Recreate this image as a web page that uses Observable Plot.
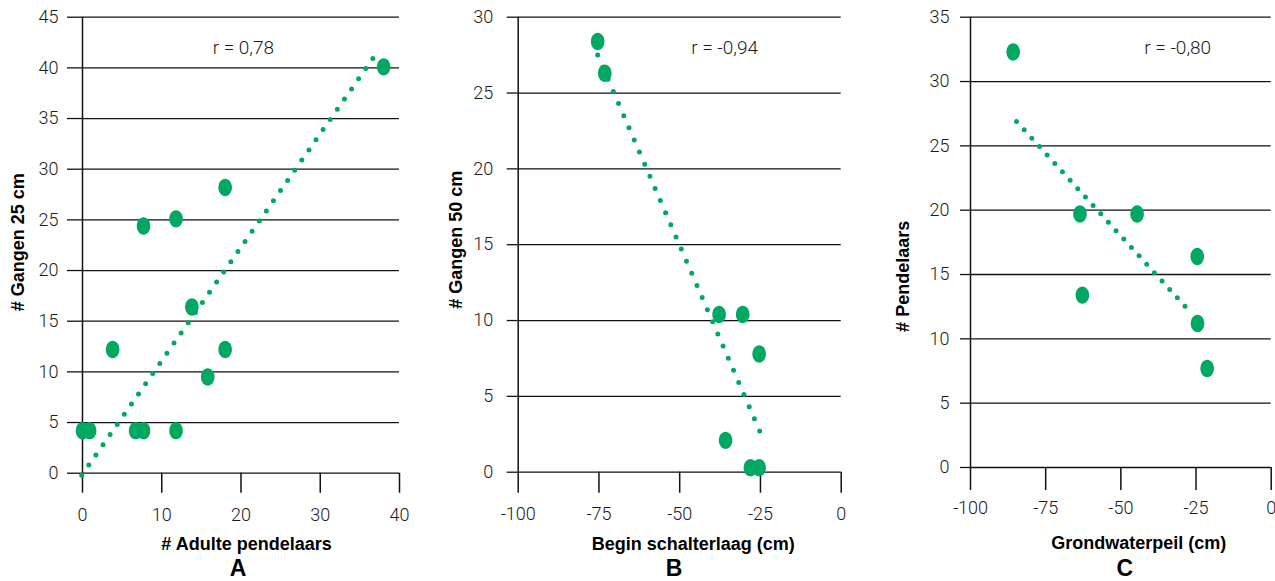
<!DOCTYPE html>
<html><head><meta charset="utf-8">
<script src="https://cdn.jsdelivr.net/npm/d3@7"></script>
<script src="https://cdn.jsdelivr.net/npm/@observablehq/plot@0.6"></script>
<style>
html,body{margin:0;padding:0;background:#fff;}
#chart{position:relative;width:1275px;height:581px;overflow:hidden;}
#chart svg{position:absolute;top:0;overflow:visible;}
</style></head><body><div id="chart"></div>
<script>
const green = "#00a862";

// Panel A
const adultePendelaars = [0, 0.9, 3.8, 6.7, 7.7, 11.8, 13.8, 15.8, 18, 7.7, 11.8, 18, 38];
const gangen25 = [4.2, 4.2, 12.2, 4.2, 4.2, 4.2, 16.4, 9.5, 12.2, 24.4, 25.1, 28.2, 40.1];
const trendAx = [-0.1, 37.5];
const trendAy = [-0.2, 41.9];
const xTicksA = [0, 10, 20, 30, 40];
const yTicksA = [0, 5, 10, 15, 20, 25, 30, 35, 40, 45];

// Panel B
const beginSchalterlaag = [-75.4, -73.2, -37.8, -30.5, -25.4, -35.8, -28.1, -25.4];
const gangen50 = [28.4, 26.3, 10.4, 10.4, 7.8, 2.1, 0.3, 0.3];
const trendBx = [-75.4, -25.2];
const trendBy = [27.5, 2.7];
const xTicksB = [-100, -75, -50, -25, 0];
const yTicksB = [0, 5, 10, 15, 20, 25, 30];

// Panel C
const grondwaterpeil = [-85.8, -63.6, -44.6, -24.6, -62.8, -24.5, -21.3];
const pendelaars = [32.3, 19.7, 19.7, 16.4, 13.4, 11.2, 7.7];
const trendCx = [-84.7, -26.2];
const trendCy = [26.9, 11.9];
const xTicksC = [-100, -75, -50, -25, 0];
const yTicksC = [0, 5, 10, 15, 20, 25, 30, 35];

const rLabels = ["r = 0,78", "r = -0,94", "r = -0,80"];
const xTitles = ["# Adulte pendelaars", "Begin schalterlaag (cm)", "Grondwaterpeil (cm)"];
const yTitles = ["# Gangen 25 cm", "# Gangen 50 cm", "# Pendelaars"];
const letters = ["A", "B", "C"];

const ellipse = {
  draw(ctx, size) {
    const ry = Math.sqrt(size / Math.PI), rx = ry * 0.78, k = 0.5523;
    ctx.moveTo(rx, 0);
    ctx.bezierCurveTo(rx, k * ry, k * rx, ry, 0, ry);
    ctx.bezierCurveTo(-k * rx, ry, -rx, k * ry, -rx, 0);
    ctx.bezierCurveTo(-rx, -k * ry, -k * rx, -ry, 0, -ry);
    ctx.bezierCurveTo(k * rx, -ry, rx, -k * ry, rx, 0);
    ctx.closePath();
  }
};

const titleFont = "'Liberation Sans', Arial, Helvetica, sans-serif";
const fmt = d => String(d);

function panel(c) {
  const pts = c.xs.map((x, i) => ({x, y: c.ys[i]}));
  const trend = c.tx.map((x, i) => ({x, y: c.ty[i]}));
  const svg = Plot.plot({
    width: c.width, height: 581,
    marginLeft: c.ml, marginRight: c.mr, marginTop: 16.7, marginBottom: c.mb,
    x: {domain: c.xDomain},
    y: {domain: c.yDomain},
    style: {fontFamily: "Roboto, 'Liberation Sans', sans-serif", fontSize: "18px", fontWeight: 300, color: "#1a1a1a", background: "transparent", overflow: "visible"},
    marks: [
      Plot.gridY(c.yTicks, {stroke: "#111", strokeOpacity: 1, strokeWidth: 1.3}),
      Plot.ruleX([c.xDomain[0]], {stroke: "#111", strokeWidth: 1.5}),
      Plot.axisY(c.yTicks, {tickSize: c.yTickSize, tickPadding: c.yTickPad, tickFormat: fmt, label: null, strokeWidth: 1.3, stroke: "#111"}),
      Plot.axisX(c.xTicks, {tickSize: c.xTickSize, tickPadding: c.xTickPad, tickFormat: fmt, label: null, strokeWidth: 1.5, stroke: "#111"}),
      Plot.line(trend, {x: "x", y: "y", stroke: green, strokeWidth: 5, strokeDasharray: c.dash, strokeLinecap: "round"}),
      Plot.dot(pts, {x: "x", y: "y", fill: green, r: 8.7, symbol: ellipse}),
      Plot.text([c.r], {x: [c.rx], y: [c.ry], fontSize: 19, fontWeight: 300, fill: "#1a1a1a"}),
      Plot.text([c.xTitle], {frameAnchor: "bottom", lineAnchor: "middle", textAnchor: "middle", dx: c.xtDx, dy: c.xtDy, fontFamily: titleFont, fontWeight: "bold", fontSize: 18, fill: "#000"}),
      Plot.text([c.yTitle], {frameAnchor: "left", lineAnchor: "middle", textAnchor: "middle", rotate: -90, dx: c.ytDx, dy: c.ytDy, fontFamily: titleFont, fontWeight: "bold", fontSize: 18, fill: "#000"}),
      Plot.text([c.letter], {frameAnchor: "bottom", lineAnchor: "middle", textAnchor: "middle", dx: c.lDx, dy: c.lDy, fontFamily: titleFont, fontWeight: "bold", fontSize: 23, fill: "#000"})
    ]
  });
  svg.style.left = c.left + "px";
  document.getElementById("chart").appendChild(svg);
}

panel({left: 0, width: 420, ml: 82, mr: 21, mb: 108.3,
  xDomain: [0, 40], yDomain: [0, 45], xTicks: xTicksA, yTicks: yTicksA,
  xs: adultePendelaars, ys: gangen25, tx: trendAx, ty: trendAy, dash: "0 12.4",
  yTickSize: 15, yTickPad: 9, xTickSize: 20, xTickPad: 15.5,
  r: rLabels[0], rx: 20.3, ry: 41.96,
  xTitle: xTitles[0], xtDx: 5.5, xtDy: 71.3,
  yTitle: yTitles[0], ytDx: -64.5, ytDy: -3,
  letter: letters[0], lDx: -3, lDy: 95});

panel({left: 430, width: 420, ml: 87.7, mr: 9.3, mb: 109.3,
  xDomain: [-100, 0], yDomain: [0, 30], xTicks: xTicksB, yTicks: yTicksB,
  xs: beginSchalterlaag, ys: gangen50, tx: trendBx, ty: trendBy, dash: "0 13.2",
  yTickSize: 11, yTickPad: 14, xTickSize: 21, xTickPad: 14.5,
  r: rLabels[1], rx: -36.1, ry: 27.96,
  xTitle: xTitles[1], xtDx: 13.5, xtDy: 72.3,
  yTitle: yTitles[1], ytDx: -61.7, ytDy: -5,
  letter: letters[1], lDx: -5.7, lDy: 96});

panel({left: 860, width: 415, ml: 110, mr: 4.3, mb: 114,
  xDomain: [-100, 0], yDomain: [0, 35], xTicks: xTicksC, yTicks: yTicksC,
  xs: grondwaterpeil, ys: pendelaars, tx: trendCx, ty: trendCy, dash: "0 11.37",
  yTickSize: 10, yTickPad: 11, xTickSize: 23, xTickPad: 10.5,
  r: rLabels[2], rx: -31.1, ry: 32.6,
  xTitle: xTitles[2], xtDx: 18, xtDy: 76,
  yTitle: yTitles[2], ytDx: -67, ytDy: 34,
  letter: letters[2], lDx: 4, lDy: 100.7});
</script></body></html>
